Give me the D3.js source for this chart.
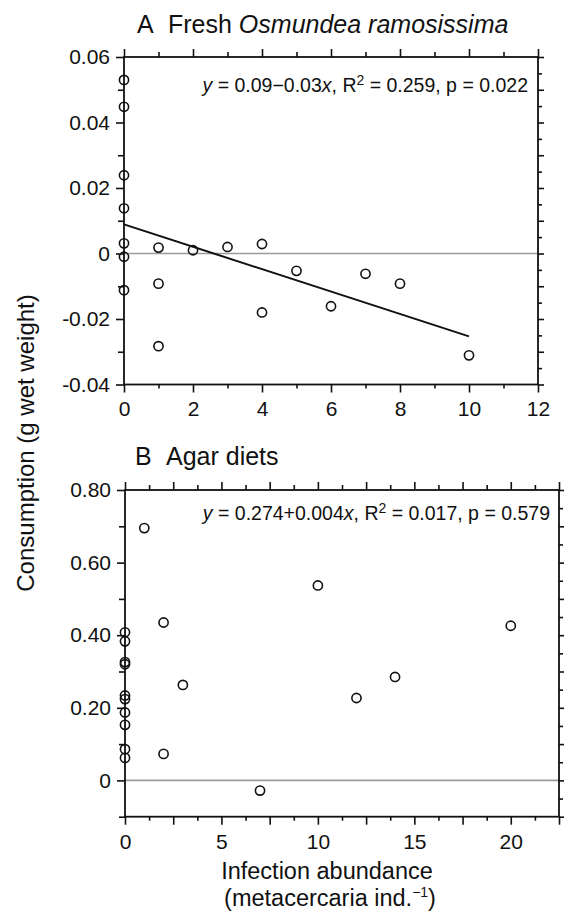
<!DOCTYPE html>
<html>
<head>
<meta charset="utf-8">
<title>Consumption vs infection abundance</title>
<style>
    body { margin: 0; background: white; }
    text { font-family: "Liberation Sans", Arial, Helvetica, sans-serif; fill: #111; }
    .frame { fill: none; stroke: #111; stroke-width: 1.8; }
    .tick line { stroke: #111; stroke-width: 1.6; }
    .zero { stroke: #9a9a9a; stroke-width: 1.6; }
    .pt { fill: none; stroke: #111; stroke-width: 1.6; }
    .fit { stroke: #111; stroke-width: 2; }
</style>
</head>
<body>
<div id="chart"></div>
<script src="https://cdn.jsdelivr.net/npm/d3@7/dist/d3.min.js"></script>
<script>
    // panel A: fresh Osmundea ramosissima
    let xA = [0, 0, 0, 0, 0, 0, 0, 1, 1, 1, 2, 3, 4, 4, 5, 6, 7, 8, 10]
    let yA = [0.053, 0.0448, 0.0239, 0.0138, 0.0031, -0.001, -0.0112,
              0.0018, -0.0092, -0.0283, 0.001, 0.002, 0.0029, -0.018,
              -0.0053, -0.0161, -0.0062, -0.0092, -0.0311]
    let fitXA = [0, 10]
    let fitYA = [0.0089, -0.0253]
    let xTicksA = [0, 2, 4, 6, 8, 10, 12]
    let xTickLabelsA = ["0", "2", "4", "6", "8", "10", "12"]
    let yTicksA = [-0.04, -0.02, 0, 0.02, 0.04, 0.06]
    let yTickLabelsA = ["-0.04", "-0.02", "0", "0.02", "0.04", "0.06"]

    // panel B: agar diets
    let xB = [0, 0, 0, 0, 0, 0, 0, 0, 0, 0, 1, 2, 2, 3, 7, 10, 12, 14, 20]
    let yB = [0.408, 0.383, 0.326, 0.320, 0.234, 0.224, 0.187, 0.153, 0.086, 0.062,
              0.695, 0.435, 0.073, 0.263, -0.028, 0.537, 0.227, 0.285, 0.426]
    let xTicksB = [0, 5, 10, 15, 20]
    let xTickLabelsB = ["0", "5", "10", "15", "20"]
    let yTicksB = [0, 0.2, 0.4, 0.6, 0.8]
    let yTickLabelsB = ["0", "0.20", "0.40", "0.60", "0.80"]

    let svg = d3.select("#chart")
        .append("svg")
        .attr("width", 564)
        .attr("height", 912)

    function addAxis(g, axis, tx, ty, fs) {
        let a = g.append("g")
            .attr("transform", "translate(" + tx + "," + ty + ")")
            .call(axis)
        a.select(".domain").remove()
        a.attr("font-family", null).attr("font-size", fs)
        return a
    }

    function near(v, step) {
        return Math.abs(v / step - Math.round(v / step)) < 1e-6
    }

    function drawPanel(p) {
        let x = d3.scaleLinear().domain(p.xDomain).range([p.left, p.right])
        let y = d3.scaleLinear().domain(p.yDomain).range([p.bottom, p.top])
        let g = svg.append("g")

        g.append("line")
            .attr("class", "zero")
            .attr("x1", p.left).attr("x2", p.right)
            .attr("y1", y(0)).attr("y2", y(0))

        // every tick position, long ones on the major step
        let xAll = d3.range(p.xDomain[0], p.xDomain[1] + 1e-9, p.xStep)
        let yLeft = d3.range(p.yDomain[0], p.yDomain[1] + 1e-9, p.yStepL)
        let yRight = d3.range(p.yDomain[0], p.yDomain[1] + 1e-9, p.yStepR)

        let xMajor = xAll.filter(d => near(d, p.xMajorStep))
        let xMinor = xAll.filter(d => !near(d, p.xMajorStep))
        let yLMinor = yLeft.filter(d => !p.yTicks.some(t => Math.abs(t - d) < 1e-9))
        let yRMajor = yRight.filter(d => near(d, p.yStepL))
        let yRMinor = yRight.filter(d => !near(d, p.yStepL))

        // labelled ticks
        addAxis(g, d3.axisBottom(x).tickValues(xMajor).tickSize(8).tickPadding(9)
            .tickFormat(d => {
                let i = p.xTicks.findIndex(t => Math.abs(t - d) < 1e-9)
                return i < 0 ? "" : p.xTickLabels[i]
            }), 0, p.bottom, 21)
        addAxis(g, d3.axisBottom(x).tickValues(xMinor).tickSize(4).tickFormat(""), 0, p.bottom, 21)
        addAxis(g, d3.axisTop(x).tickValues(xMajor).tickSize(8).tickFormat(""), 0, p.top, 21)
        addAxis(g, d3.axisTop(x).tickValues(xMinor).tickSize(5).tickFormat(""), 0, p.top, 21)

        addAxis(g, d3.axisLeft(y).tickValues(p.yTicks).tickSize(8).tickPadding(6)
            .tickFormat((d, i) => p.yTickLabels[i]), p.left, 0, 21)
        addAxis(g, d3.axisLeft(y).tickValues(yLMinor).tickSize(6).tickFormat(""), p.left, 0, 21)
        addAxis(g, d3.axisRight(y).tickValues(yRMajor).tickSize(6).tickFormat(""), p.right, 0, 21)
        addAxis(g, d3.axisRight(y).tickValues(yRMinor).tickSize(4).tickFormat(""), p.right, 0, 21)

        g.append("rect")
            .attr("class", "frame")
            .attr("x", p.left).attr("y", p.top)
            .attr("width", p.right - p.left)
            .attr("height", p.bottom - p.top)

        if (p.fitX) {
            g.append("line")
                .attr("class", "fit")
                .attr("x1", x(p.fitX[0])).attr("y1", y(p.fitY[0]))
                .attr("x2", x(p.fitX[1])).attr("y2", y(p.fitY[1]))
        }

        g.selectAll(".pt")
            .data(p.xs.map((d, i) => [d, p.ys[i]]))
            .enter()
            .append("circle")
            .attr("class", "pt")
            .attr("cx", d => x(d[0]))
            .attr("cy", d => y(d[1]))
            .attr("r", 4.6)

        // panel title
        let t = g.append("text")
            .attr("x", p.titleX).attr("y", p.titleY)
            .attr("font-size", 25)
        t.append("tspan").text(p.letter)
        t.append("tspan").attr("x", p.titleX + 31).text(p.title)
        if (p.titleItalic)
            t.append("tspan").attr("font-style", "italic").text(p.titleItalic)

        // regression annotation
        let s = g.append("text")
            .attr("x", p.annX).attr("y", p.annY)
            .attr("text-anchor", "end")
            .attr("font-size", 19.5)
        s.append("tspan").attr("font-style", "italic").text("y")
        s.append("tspan").text(" = " + p.eq)
        s.append("tspan").attr("font-style", "italic").text("x")
        s.append("tspan").text(", R")
        s.append("tspan").attr("font-size", 14).attr("dy", -7).text("2")
        s.append("tspan").attr("dy", 7).text(" = " + p.r2 + ", p = " + p.pval)
    }

    drawPanel({
        xs: xA, ys: yA, fitX: fitXA, fitY: fitYA,
        xDomain: [0, 12], yDomain: [-0.04, 0.06],
        left: 124, right: 538, top: 57, bottom: 384.5,
        xStep: 1, xMajorStep: 2, yStepL: 0.01, yStepR: 0.005,
        xTicks: xTicksA, xTickLabels: xTickLabelsA,
        yTicks: yTicksA, yTickLabels: yTickLabelsA,
        letter: "A", title: "Fresh ", titleItalic: "Osmundea ramosissima",
        titleX: 137, titleY: 33,
        eq: "0.09\u22120.03", r2: "0.259", pval: "0.022",
        annX: 528, annY: 92
    })

    drawPanel({
        xs: xB, ys: yB,
        xDomain: [0, 22.5], yDomain: [-0.1, 0.8],
        left: 125, right: 559, top: 490, bottom: 816.7,
        xStep: 1.25, xMajorStep: 2.5, yStepL: 0.1, yStepR: 0.05,
        xTicks: xTicksB, xTickLabels: xTickLabelsB,
        yTicks: yTicksB, yTickLabels: yTickLabelsB,
        letter: "B", title: "Agar diets", titleItalic: null,
        titleX: 135, titleY: 465,
        eq: "0.274+0.004", r2: "0.017", pval: "0.579",
        annX: 550, annY: 520
    })

    // shared axis titles
    svg.append("text")
        .attr("transform", "translate(34,443) rotate(-90)")
        .attr("text-anchor", "middle")
        .attr("font-size", 24)
        .text("Consumption (g wet weight)")

    svg.append("text")
        .attr("x", 327).attr("y", 879)
        .attr("text-anchor", "middle")
        .attr("font-size", 23.5)
        .text("Infection abundance")

    let sub = svg.append("text")
        .attr("x", 330).attr("y", 906)
        .attr("text-anchor", "middle")
        .attr("font-size", 23.5)
    sub.append("tspan").text("(metacercaria ind.")
    sub.append("tspan").attr("font-size", 14).attr("dy", -9).text("\u22121")
    sub.append("tspan").attr("dy", 9).text(")")
</script>
</body>
</html>
